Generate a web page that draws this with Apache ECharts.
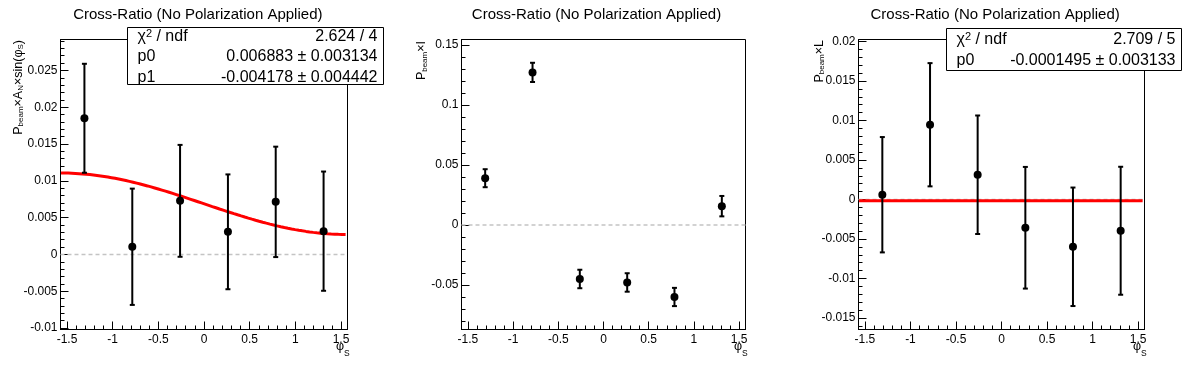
<!DOCTYPE html>
<html><head><meta charset="utf-8">
<script src="https://cdn.jsdelivr.net/npm/echarts@6/dist/echarts.min.js"></script>
<style>html,body{margin:0;padding:0;background:#fff;}#c{width:1196px;height:372px;}</style>
</head><body><div id="c"></div>
<script>
// ---------------- data ----------------
const titleText = 'Cross-Ratio (No Polarization Applied)';
const phiS = [-1.309, -0.785, -0.262, 0.262, 0.785, 1.309];

const anVal = [0.0185, 0.00104, 0.00728, 0.00307, 0.00714, 0.00316];
const anErr = [0.0074, 0.0079, 0.0076, 0.0078, 0.0075, 0.0081];

const iVal = [0.0391, 0.1273, -0.0449, -0.0478, -0.0599, 0.0158];
const iErr = [0.0075, 0.0080, 0.0077, 0.0077, 0.0076, 0.0085];

const lVal = [0.0006, 0.00946, 0.00313, -0.00358, -0.00599, -0.00396];
const lErr = [0.0073, 0.0078, 0.0075, 0.0077, 0.0075, 0.0081];

// fit results shown in the stat boxes
const fitAN = [0.006883, -0.004178];
const fitANErr = [0.003134, 0.004442];
const fitANChi2 = [2.624, 4];
const fitL = [-0.0001495];
const fitLErr = [0.003133];
const fitLChi2 = [2.709, 5];
const fitRange = [-1.565, 1.55];

// axes
const xRange = [-1.5708, 1.5708];
const xTicks = [-1.5, -1, -0.5, 0, 0.5, 1, 1.5];
const xMinorStep = 0.1;
const yRangeAN = [-0.0102, 0.0292];
const yTicksAN = [-0.01, -0.005, 0, 0.005, 0.01, 0.015, 0.02, 0.025];
const yMinorAN = 0.001;
const yRangeI = [-0.087, 0.1547];
const yTicksI = [-0.05, 0, 0.05, 0.1, 0.15];
const yMinorI = 0.01;
const yRangeL = [-0.01646, 0.02025];
const yTicksL = [-0.015, -0.01, -0.005, 0, 0.005, 0.01, 0.015, 0.02];
const yMinorL = 0.001;

// axis titles: [text, isSubscript]
const yTitleAN = [['P', 0], ['beam', 1], ['×A', 0], ['N', 1], ['×sin(φ', 0], ['S', 1], [')', 0]];
const yTitleI = [['P', 0], ['beam', 1], ['×I', 0]];
const yTitleL = [['P', 0], ['beam', 1], ['×L', 0]];
const xTitle = [['φ', 0], ['S', 1]];

// ---------------- layout ----------------
const FONT = '"Liberation Sans", Arial, Helvetica, sans-serif';
const padW = 1196 / 3;
const grids = [
  {left: 60.5, top: 39.5, width: 287, height: 290},
  {left: 461.5, top: 39.5, width: 284, height: 290},
  {left: 858.5, top: 39.5, width: 286, height: 290}
];

function minorTicks(r, step) {
  const out = [];
  for (let k = Math.ceil(r[0] / step - 1e-9); k <= Math.floor(r[1] / step + 1e-9); k++) {
    out.push(+(k * step).toFixed(6));
  }
  return out;
}
const fmt = v => String(+(+v).toFixed(6));

const xAxes = [], yAxes = [];
const yRanges = [yRangeAN, yRangeI, yRangeL];
const yTicksAll = [yTicksAN, yTicksI, yTicksL];
const yMinors = [yMinorAN, yMinorI, yMinorL];
const tickLine = {color: '#000', width: 1};
for (let g = 0; g < 3; g++) {
  xAxes.push({
    type: 'value', gridIndex: g, position: 'bottom', min: xRange[0], max: xRange[1],
    axisLine: {show: true, onZero: false, lineStyle: tickLine},
    axisTick: {show: true, inside: true, length: 8, customValues: xTicks, lineStyle: tickLine},
    axisLabel: {show: true, customValues: xTicks, formatter: fmt, color: '#000', fontSize: 12, fontFamily: FONT, margin: 4, hideOverlap: false},
    splitLine: {show: false}
  });
  yAxes.push({
    type: 'value', gridIndex: g, position: 'left', min: yRanges[g][0], max: yRanges[g][1],
    axisLine: {show: true, onZero: false, lineStyle: tickLine},
    axisTick: {show: true, inside: true, length: 8, customValues: yTicksAll[g], lineStyle: tickLine},
    axisLabel: {show: true, customValues: yTicksAll[g], formatter: fmt, color: '#000', fontSize: 12, fontFamily: FONT, margin: 3, hideOverlap: false},
    splitLine: {show: false}
  });
}
for (let g = 0; g < 3; g++) {
  xAxes.push({
    type: 'value', gridIndex: g, position: 'bottom', min: xRange[0], max: xRange[1],
    axisLine: {show: false, onZero: false},
    axisTick: {show: true, inside: true, length: 4, customValues: minorTicks([xTicks[0], xTicks[xTicks.length - 1]], xMinorStep), lineStyle: tickLine},
    axisLabel: {show: false}, splitLine: {show: false}
  });
  yAxes.push({
    type: 'value', gridIndex: g, position: 'left', min: yRanges[g][0], max: yRanges[g][1],
    axisLine: {show: false, onZero: false},
    axisTick: {show: true, inside: true, length: 4, customValues: minorTicks(yRanges[g], yMinors[g]), lineStyle: tickLine},
    axisLabel: {show: false}, splitLine: {show: false}
  });
}

function errorBars(g, vals, errs) {
  return {
    type: 'custom', xAxisIndex: g, yAxisIndex: g, z: 4,
    data: phiS.map((x, i) => [x, vals[i], errs[i]]),
    encode: {x: 0, y: 1},
    renderItem: (params, api) => {
      const x = api.value(0), y = api.value(1), e = api.value(2);
      const t = api.coord([x, y + e]), b = api.coord([x, y - e]);
      const cw = 2.5, st = {stroke: '#000', lineWidth: 2};
      return {type: 'group', children: [
        {type: 'line', shape: {x1: t[0], y1: t[1], x2: b[0], y2: b[1]}, style: st},
        {type: 'line', shape: {x1: t[0] - cw, y1: t[1], x2: t[0] + cw, y2: t[1]}, style: st},
        {type: 'line', shape: {x1: b[0] - cw, y1: b[1], x2: b[0] + cw, y2: b[1]}, style: st}
      ]};
    }
  };
}
function points(g, vals) {
  return {
    type: 'scatter', xAxisIndex: g, yAxisIndex: g, z: 5, symbol: 'circle', symbolSize: 8,
    itemStyle: {color: '#000', opacity: 1}, silent: true,
    data: phiS.map((x, i) => [x, vals[i]])
  };
}
function zeroLine(g) {
  return {
    type: 'line', xAxisIndex: g, yAxisIndex: g, z: 2, showSymbol: false, silent: true,
    lineStyle: {color: '#c4c4c4', width: 1.5, type: [4, 3]},
    data: xRange.map(x => [x, 0])
  };
}
function fitLine(g, data) {
  return {
    type: 'line', xAxisIndex: g, yAxisIndex: g, z: 3, showSymbol: false, silent: true,
    lineStyle: {color: '#ff0000', width: 3}, data: data
  };
}
// evaluate the fitted function p0 + p1*sin(phi) reported in the stat box
const fitANCurve = [];
const nSamp = 80;
for (let k = 0; k < nSamp; k++) {
  const x = fitRange[0] + (fitRange[1] - fitRange[0]) * k / (nSamp - 1);
  fitANCurve.push([x, fitAN[0] + fitAN[1] * Math.sin(x)]);
}
const fitLCurve = fitRange.map(x => [x, fitL[0]]);

const series = [
  zeroLine(0), fitLine(0, fitANCurve), errorBars(0, anVal, anErr), points(0, anVal),
  zeroLine(1), errorBars(1, iVal, iErr), points(1, iVal),
  zeroLine(2), fitLine(2, fitLCurve), errorBars(2, lVal, lErr), points(2, lVal)
];

// ---------------- graphic texts ----------------
const graphic = [];
function txt(x, y, text, opt) {
  return Object.assign({type: 'text', x: x, y: y, z: 100, silent: true,
    style: Object.assign({text: text, fill: '#000', fontFamily: FONT, fontSize: 12}, opt)});
}
for (let g = 0; g < 3; g++) {
  graphic.push(txt(padW * g + padW / 2 - 1.5, 15, titleText, {fontSize: 15, align: 'center', verticalAlign: 'middle'}));
}
// token-by-token text with subscripts (measured with canvas)
const mctx = document.createElement('canvas').getContext('2d');
function tw(text, size) { mctx.font = size + 'px ' + FONT; return mctx.measureText(text).width; }
const MAIN = 12.5, SUB = 8, SUBSHIFT = 2.6;
function vertTitle(xMid, yTop, tokens) {
  const sizes = tokens.map(t => t[1] ? SUB : MAIN);
  const widths = tokens.map((t, i) => tw(t[0], sizes[i]));
  let y = yTop + widths.reduce((a, b) => a + b, 0);
  tokens.forEach((t, i) => {
    const el = txt(xMid + (t[1] ? SUBSHIFT : 0), y, t[0], {fontSize: sizes[i], align: 'left', verticalAlign: 'middle'});
    el.rotation = Math.PI / 2;
    graphic.push(el);
    y -= widths[i];
  });
}
function horizTitle(xLeft, yMid, tokens, subShift) {
  let x = xLeft;
  tokens.forEach(t => {
    const size = t[1] ? SUB + 0.5 : MAIN;
    graphic.push(txt(x, yMid + (t[1] ? subShift : 0), t[0], {fontSize: size, align: 'left', verticalAlign: 'middle'}));
    x += tw(t[0], size);
  });
}
vertTitle(18.5, 40, yTitleAN);
vertTitle(422, 41, yTitleI);
vertTitle(819.5, 40, yTitleL);
for (let g = 0; g < 3; g++) {
  const gr = grids[g];
  horizTitle(gr.left + gr.width - 11.5, 347, xTitle, 7);
}
// stat boxes
const richStat = {
  m: {fontSize: 16, fontFamily: FONT, lineHeight: 20, verticalAlign: 'top', fill: '#000'},
  sup: {fontSize: 11, fontFamily: FONT, lineHeight: 11, verticalAlign: 'top', fill: '#000'}
};
function statBox(x0, y0, w, rowsY, rows) {
  graphic.push({type: 'rect', z: 99, silent: true, shape: {x: x0, y: y0, width: w, height: rowsY.h},
    style: {fill: '#fff', stroke: '#000', lineWidth: 1}});
  rows.forEach((r, i) => {
    const y = y0 + rowsY.c[i];
    graphic.push(txt(x0 + 10, y, r[0], {align: 'left', verticalAlign: 'middle', rich: richStat}));
    graphic.push(txt(x0 + w - 6, y, '{m|' + r[1] + '}', {align: 'right', verticalAlign: 'middle', rich: richStat}));
  });
}
statBox(127.5, 27.5, 256, {h: 57, c: [11, 31.5, 52]}, [
  ['{m|χ}{sup|2}{m| / ndf}', fitANChi2[0] + ' / ' + fitANChi2[1]],
  ['{m|p0}', fitAN[0] + ' ± ' + fitANErr[0]],
  ['{m|p1}', fitAN[1] + ' ± ' + fitANErr[1]]
]);
statBox(946.5, 28.5, 235, {h: 42, c: [13, 34]}, [
  ['{m|χ}{sup|2}{m| / ndf}', fitLChi2[0] + ' / ' + fitLChi2[1]],
  ['{m|p0}', fitL[0] + ' ± ' + fitLErr[0]]
]);

const chart = echarts.init(document.getElementById('c'), null, {renderer: 'canvas'});
chart.setOption({
  animation: false,
  backgroundColor: '#fff',
  grid: grids.map(g => Object.assign({show: true, borderColor: '#000', borderWidth: 1, backgroundColor: '#fff', containLabel: false, outerBoundsMode: 'none'}, g)),
  xAxis: xAxes,
  yAxis: yAxes,
  series: series,
  graphic: graphic
});
</script></body></html>
